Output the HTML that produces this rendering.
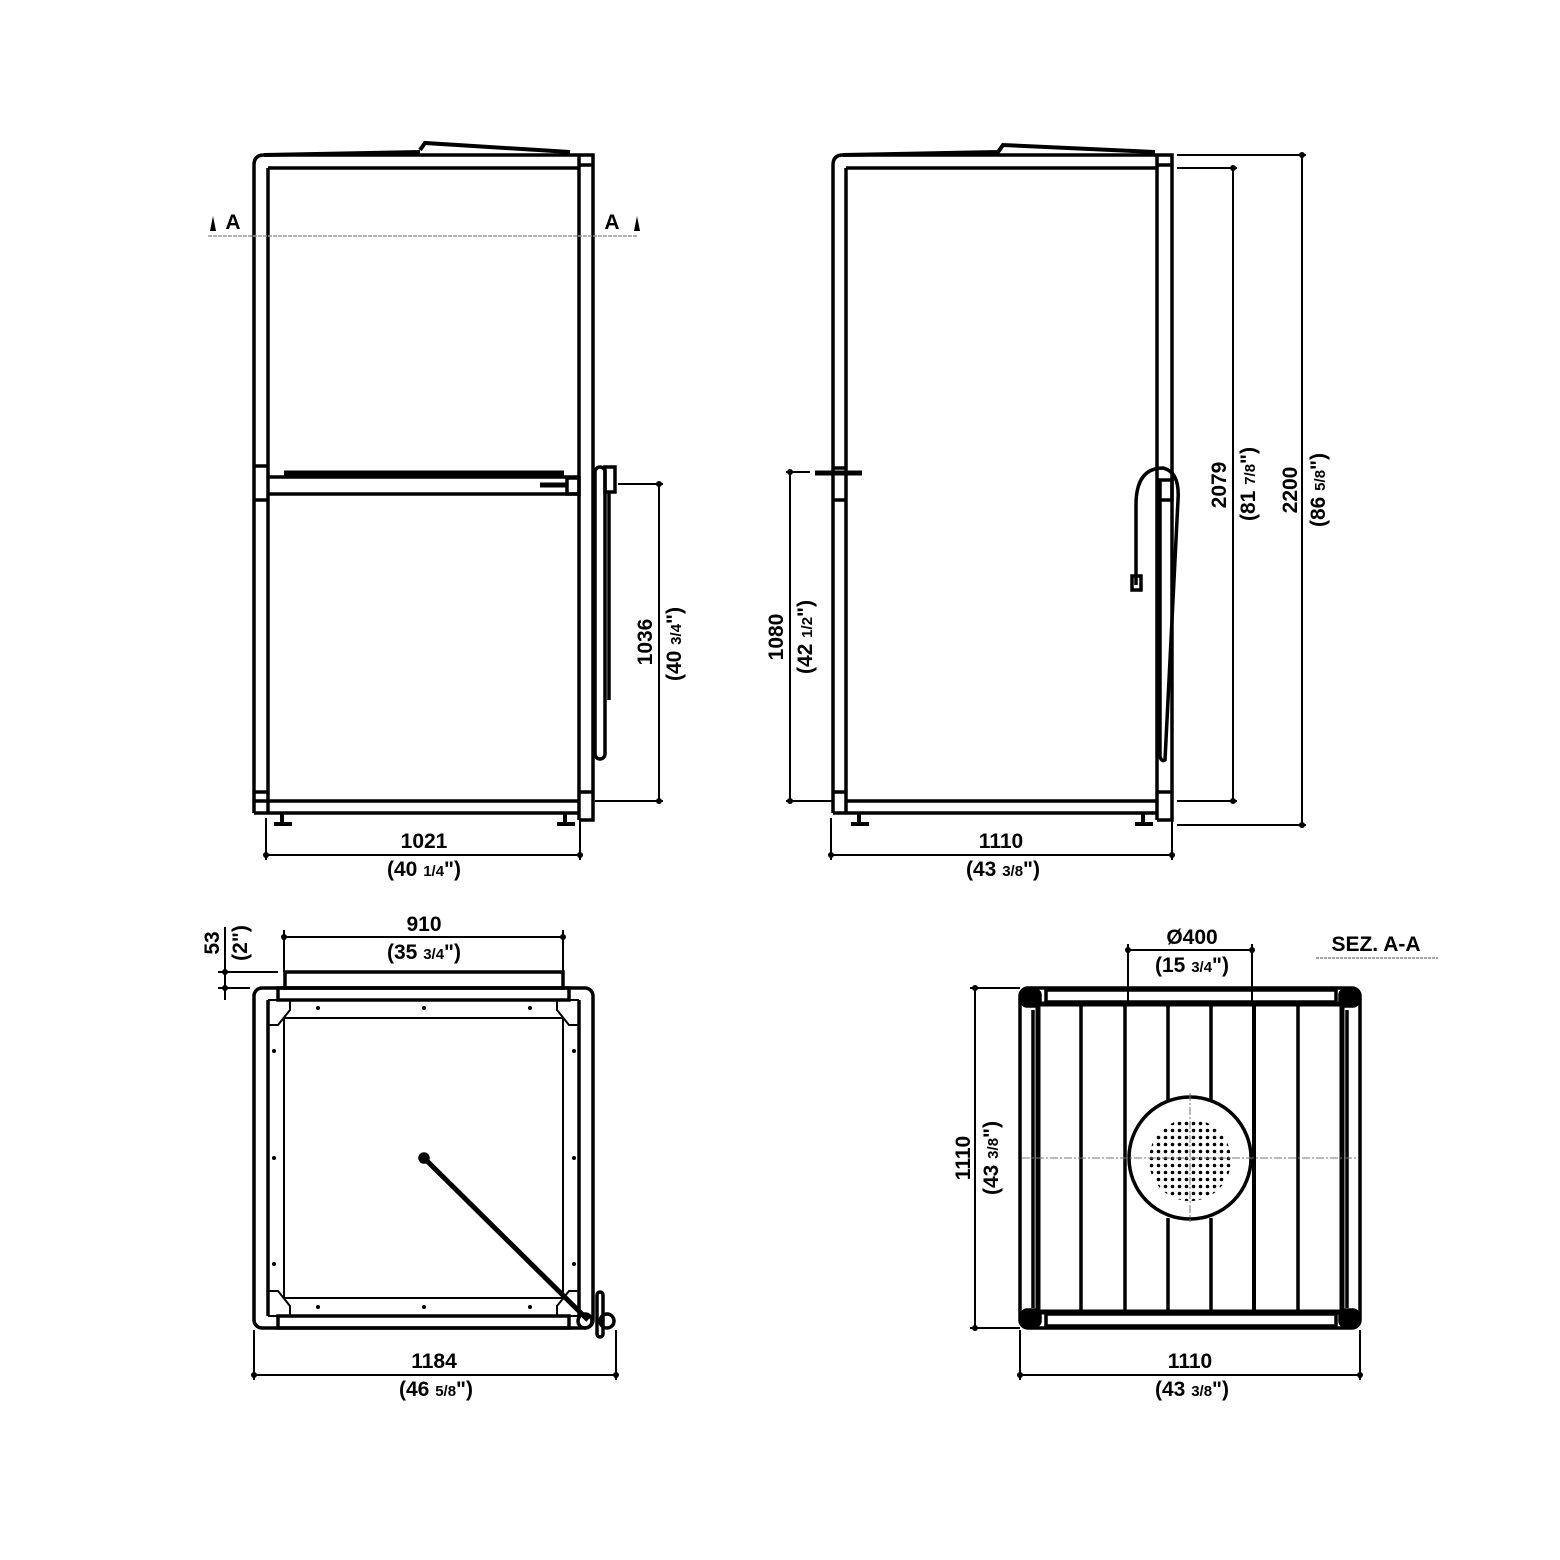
<!DOCTYPE html>
<html><head><meta charset="utf-8"><style>
html,body{margin:0;padding:0;background:#fff}
svg{display:block}
text{font-family:"Liberation Sans",Arial,sans-serif;font-weight:bold;fill:#000}
.t{font-size:21px}
.s{font-size:15px}
</style></head><body>
<svg width="1560" height="1560" viewBox="0 0 1560 1560" xmlns="http://www.w3.org/2000/svg">
<defs>
<pattern id="dots" width="7" height="7" patternUnits="userSpaceOnUse"><circle cx="3.5" cy="3.5" r="1.8" fill="#000"/></pattern>
<clipPath id="cc"><circle cx="1190" cy="1160" r="41"/></clipPath>
</defs>
<g fill="none" stroke="#000" stroke-width="3.5">
<!-- FRONT VIEW -->
<path d="M254 813 V165 Q254 155 264 155 H593 V820 H579"/>
<line x1="268" y1="168" x2="268" y2="813"/>
<line x1="579" y1="155" x2="579" y2="820"/>
<line x1="268" y1="168" x2="579" y2="168"/>
<line x1="254" y1="813" x2="579" y2="813"/>
<line x1="268" y1="801" x2="579" y2="801"/>
<line x1="254" y1="801" x2="268" y2="801"/>
<line x1="254" y1="792" x2="268" y2="792"/>
<line x1="579" y1="792" x2="593" y2="792"/>
<line x1="579" y1="165" x2="593" y2="165"/>
<line x1="254" y1="466" x2="268" y2="466"/>
<line x1="254" y1="500" x2="268" y2="500"/>
<line x1="268" y1="494" x2="579" y2="494"/>
<line x1="268" y1="477" x2="579" y2="477"/>
<line x1="284" y1="473" x2="564" y2="473" stroke-width="5"/>
<path d="M420 150 L425 143 L570 152" stroke-width="4"/>
<path d="M264 155 L420 152" stroke-width="4"/>
<!-- handle front -->
<rect x="595" y="467" width="10" height="292" rx="5"/>
<rect x="605" y="467" width="10" height="25"/>
<line x1="609" y1="492" x2="609" y2="700"/>
<rect x="567" y="478" width="12" height="16"/>
<line x1="540" y1="485" x2="567" y2="485" stroke-width="5"/>
<!-- feet -->
<path d="M282 813 V822 M274 824 H292 M565 813 V822 M557 824 H575" stroke-width="4"/>
<!-- front dims -->
<g stroke-width="2">
<line x1="266" y1="818" x2="266" y2="860"/><line x1="580" y1="818" x2="580" y2="860"/>
<line x1="266" y1="855" x2="580" y2="855"/>
<line x1="659" y1="484" x2="659" y2="801"/>
<line x1="618" y1="484" x2="663" y2="484"/><line x1="595" y1="801" x2="663" y2="801"/>
</g>
<line x1="208" y1="236" x2="638" y2="236" stroke="#999" stroke-width="1.5" stroke-dasharray="4 1"/>
<!-- SIDE VIEW -->
<path d="M833 813 V165 Q833 155 843 155 H1172 V820 H1157"/>
<line x1="846" y1="168" x2="846" y2="813"/>
<line x1="1157" y1="155" x2="1157" y2="820"/>
<line x1="846" y1="168" x2="1157" y2="168"/>
<line x1="833" y1="813" x2="1157" y2="813"/>
<line x1="846" y1="801" x2="1157" y2="801"/>
<line x1="833" y1="792" x2="846" y2="792"/>
<line x1="1157" y1="792" x2="1172" y2="792"/>
<line x1="1157" y1="165" x2="1172" y2="165"/>
<line x1="833" y1="500" x2="846" y2="500"/>
<line x1="833" y1="468" x2="846" y2="468"/>
<path d="M843 155 L998 152 L1003 145 L1155 152" stroke-width="4"/>
<line x1="815" y1="473" x2="862" y2="473" stroke-width="5"/>
<path d="M1136 585 V505 Q1136 468 1163 468 Q1180 472 1178 500 L1165 760 Q1162 762 1160 757 V500"/>
<rect x="1132" y="576" width="9" height="14"/>
<rect x="1160" y="480" width="12" height="20"/>
<path d="M859 813 V822 M851 824 H869 M1143 813 V822 M1135 824 H1153" stroke-width="4"/>
<g stroke-width="2">
<line x1="831" y1="818" x2="831" y2="860"/><line x1="1172" y1="818" x2="1172" y2="860"/>
<line x1="831" y1="855" x2="1172" y2="855"/>
<line x1="790" y1="472" x2="790" y2="801"/>
<line x1="786" y1="472" x2="810" y2="472"/><line x1="786" y1="801" x2="833" y2="801"/>
<line x1="1233" y1="168" x2="1233" y2="801"/>
<line x1="1177" y1="168" x2="1237" y2="168"/><line x1="1177" y1="801" x2="1237" y2="801"/>
<line x1="1302" y1="155" x2="1302" y2="825"/>
<line x1="1177" y1="155" x2="1306" y2="155"/><line x1="1177" y1="825" x2="1306" y2="825"/>
</g>
<!-- PLAN VIEW -->
<rect x="254" y="988" width="339" height="340" rx="8"/>
<line x1="268" y1="1000" x2="268" y2="1316"/>
<line x1="579" y1="1000" x2="579" y2="1316"/>
<rect x="278" y="988" width="291" height="12"/>
<rect x="278" y="1316" width="291" height="12"/>
<line x1="284" y1="1018" x2="563" y2="1018" stroke-width="2"/>
<line x1="284" y1="1298" x2="563" y2="1298" stroke-width="2"/>
<line x1="284" y1="1018" x2="284" y2="1298" stroke-width="2"/>
<line x1="563" y1="1018" x2="563" y2="1298" stroke-width="2"/>
<rect x="285" y="972" width="278" height="16"/>
<path d="M268 1000 H290 V1010 L278 1025 H268 M579 1000 H557 V1010 L569 1025 H579 M268 1316 H290 V1306 L278 1291 H268 M579 1316 H557 V1306 L569 1291 H579" stroke-width="2"/>
<line x1="424" y1="1158" x2="588" y2="1320" stroke-width="5"/>
<circle cx="424" cy="1158" r="4" fill="#000"/>
<circle cx="585" cy="1321" r="7"/>
<circle cx="607" cy="1321" r="7"/>
<rect x="597" y="1292" width="6" height="45" rx="3"/>
<g stroke-width="2">
<line x1="284" y1="937" x2="563" y2="937"/>
<line x1="284" y1="930" x2="284" y2="972"/><line x1="563" y1="930" x2="563" y2="972"/>
<line x1="225" y1="927" x2="225" y2="1000"/>
<line x1="218" y1="972" x2="278" y2="972"/><line x1="218" y1="988" x2="250" y2="988"/>
<line x1="254" y1="1330" x2="254" y2="1380"/><line x1="616" y1="1330" x2="616" y2="1380"/>
<line x1="254" y1="1375" x2="616" y2="1375"/>
</g>
<!-- SECTION -->
<rect x="1020" y="988" width="340" height="340" rx="8"/>
<rect x="1046" y="990" width="290" height="12"/>
<rect x="1046" y="1314" width="290" height="12"/>
<line x1="1030" y1="1004" x2="1350" y2="1004" stroke-width="5"/>
<line x1="1030" y1="1312" x2="1350" y2="1312" stroke-width="5"/>
<line x1="1033" y1="1010" x2="1033" y2="1308"/>
<line x1="1347" y1="1010" x2="1347" y2="1308"/>
<line x1="1038" y1="1006" x2="1038" y2="1310" stroke-width="5"/>
<line x1="1342" y1="1006" x2="1342" y2="1310" stroke-width="5"/>
<line x1="1081" y1="1006" x2="1081" y2="1310"/>
<line x1="1125" y1="1006" x2="1125" y2="1310"/>
<line x1="1168" y1="1006" x2="1168" y2="1100"/><line x1="1168" y1="1218" x2="1168" y2="1310"/>
<line x1="1211" y1="1006" x2="1211" y2="1100"/><line x1="1211" y1="1218" x2="1211" y2="1310"/>
<line x1="1254" y1="1006" x2="1254" y2="1310" stroke-width="4"/>
<line x1="1298" y1="1006" x2="1298" y2="1310"/>
<rect x="1022" y="990" width="18" height="16" fill="#000" rx="5"/>
<rect x="1340" y="990" width="18" height="16" fill="#000" rx="5"/>
<rect x="1022" y="1310" width="18" height="16" fill="#000" rx="5"/>
<rect x="1340" y="1310" width="18" height="16" fill="#000" rx="5"/>
<circle cx="1190" cy="1158" r="61" fill="#fff"/>
<rect x="1148" y="1118" width="84" height="84" fill="url(#dots)" stroke="none" clip-path="url(#cc)"/>
<line x1="1022" y1="1158" x2="1358" y2="1158" stroke="#777" stroke-width="1" stroke-dasharray="8 2 2 2"/>
<line x1="1190" y1="1093" x2="1190" y2="1222" stroke="#777" stroke-width="1" stroke-dasharray="8 2 2 2"/>
<g stroke-width="2">
<line x1="1128" y1="950" x2="1252" y2="950"/>
<line x1="1128" y1="944" x2="1128" y2="1004"/><line x1="1252" y1="944" x2="1252" y2="1004"/>
<line x1="975" y1="988" x2="975" y2="1328"/>
<line x1="970" y1="988" x2="1020" y2="988"/><line x1="970" y1="1328" x2="1020" y2="1328"/>
<line x1="1020" y1="1330" x2="1020" y2="1380"/><line x1="1360" y1="1330" x2="1360" y2="1380"/>
<line x1="1020" y1="1375" x2="1360" y2="1375"/>
</g>
<line x1="1316" y1="958" x2="1438" y2="958" stroke="#888" stroke-width="1.5" stroke-dasharray="3 1"/>
</g>
<!-- dimension dots -->
<g fill="#000">
<circle cx="266" cy="855" r="3"/><circle cx="580" cy="855" r="3"/>
<circle cx="659" cy="484" r="3"/><circle cx="659" cy="801" r="3"/>
<circle cx="831" cy="855" r="3"/><circle cx="1172" cy="855" r="3"/>
<circle cx="790" cy="472" r="3"/><circle cx="790" cy="801" r="3"/>
<circle cx="1233" cy="168" r="3"/><circle cx="1233" cy="801" r="3"/>
<circle cx="1302" cy="155" r="3"/><circle cx="1302" cy="825" r="3"/>
<circle cx="284" cy="937" r="3"/><circle cx="563" cy="937" r="3"/>
<circle cx="225" cy="972" r="3"/><circle cx="225" cy="988" r="3"/>
<circle cx="254" cy="1375" r="3"/><circle cx="616" cy="1375" r="3"/>
<circle cx="1128" cy="950" r="3"/><circle cx="1252" cy="950" r="3"/>
<circle cx="975" cy="988" r="3"/><circle cx="975" cy="1328" r="3"/>
<circle cx="1020" cy="1375" r="3"/><circle cx="1360" cy="1375" r="3"/>
<circle cx="318" cy="1008" r="2"/><circle cx="424" cy="1008" r="2"/><circle cx="530" cy="1008" r="2"/>
<circle cx="318" cy="1307" r="2"/><circle cx="424" cy="1307" r="2"/><circle cx="530" cy="1307" r="2"/>
<circle cx="274" cy="1051" r="2"/><circle cx="274" cy="1158" r="2"/><circle cx="274" cy="1264" r="2"/>
<circle cx="574" cy="1051" r="2"/><circle cx="574" cy="1158" r="2"/><circle cx="574" cy="1264" r="2"/>
<path d="M210 231 L213 216 L216 231 Z"/><path d="M634 231 L637 216 L640 231 Z"/>
</g>
<!-- TEXT -->
<text class="t" x="233" y="229" text-anchor="middle" font-size="25">A</text>
<text class="t" x="612" y="229" text-anchor="middle" font-size="25">A</text>
<text class="t" x="424" y="848" text-anchor="middle">1021</text>
<text class="t" x="424" y="876" text-anchor="middle">(40 <tspan class="s">1/4</tspan>")</text>
<text class="t" transform="translate(652,642) rotate(-90)" text-anchor="middle">1036</text>
<text class="t" transform="translate(681,644) rotate(-90)" text-anchor="middle">(40 <tspan class="s">3/4</tspan>")</text>
<text class="t" x="1001" y="848" text-anchor="middle">1110</text>
<text class="t" x="1003" y="876" text-anchor="middle">(43 <tspan class="s">3/8</tspan>")</text>
<text class="t" transform="translate(783,637) rotate(-90)" text-anchor="middle">1080</text>
<text class="t" transform="translate(812,637) rotate(-90)" text-anchor="middle">(42 <tspan class="s">1/2</tspan>")</text>
<text class="t" transform="translate(1226,485) rotate(-90)" text-anchor="middle">2079</text>
<text class="t" transform="translate(1255,484) rotate(-90)" text-anchor="middle">(81 <tspan class="s">7/8</tspan>")</text>
<text class="t" transform="translate(1297,490) rotate(-90)" text-anchor="middle">2200</text>
<text class="t" transform="translate(1325,490) rotate(-90)" text-anchor="middle">(86 <tspan class="s">5/8</tspan>")</text>
<text class="t" x="424" y="931" text-anchor="middle">910</text>
<text class="t" x="424" y="959" text-anchor="middle">(35 <tspan class="s">3/4</tspan>")</text>
<text class="t" transform="translate(219,943) rotate(-90)" text-anchor="middle">53</text>
<text class="t" transform="translate(247,943) rotate(-90)" text-anchor="middle" font-size="18">(2")</text>
<text class="t" x="434" y="1368" text-anchor="middle">1184</text>
<text class="t" x="436" y="1396" text-anchor="middle">(46 <tspan class="s">5/8</tspan>")</text>
<text class="t" x="1192" y="944" text-anchor="middle">Ø400</text>
<text class="t" x="1192" y="972" text-anchor="middle">(15 <tspan class="s">3/4</tspan>")</text>
<text class="t" x="1376" y="951" text-anchor="middle" font-size="24">SEZ. A-A</text>
<text class="t" transform="translate(970,1158) rotate(-90)" text-anchor="middle">1110</text>
<text class="t" transform="translate(998,1158) rotate(-90)" text-anchor="middle">(43 <tspan class="s">3/8</tspan>")</text>
<text class="t" x="1190" y="1368" text-anchor="middle">1110</text>
<text class="t" x="1192" y="1396" text-anchor="middle">(43 <tspan class="s">3/8</tspan>")</text>
</svg>
</body></html>
